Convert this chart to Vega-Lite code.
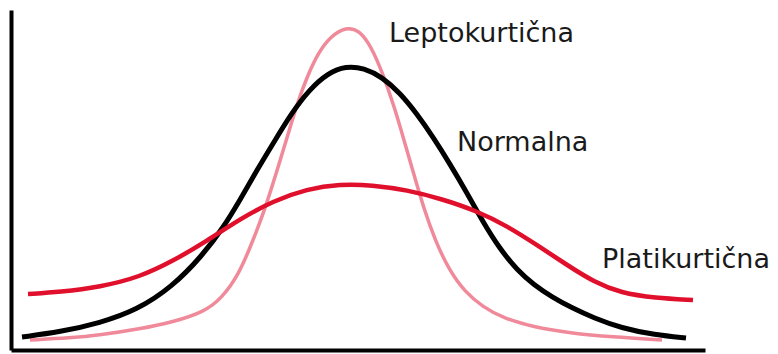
{
  "$schema": "https://vega.github.io/schema/vega-lite/v6.json",
  "width": 694,
  "height": 340,
  "padding": {"left": 11, "top": 10, "right": 73, "bottom": 4},
  "autosize": {"type": "none"},
  "background": "white",
  "config": {
    "view": {"stroke": null},
    "axis": {"domain": true, "domainColor": "#000000", "domainWidth": 4, "ticks": false, "labels": false, "grid": false}
  },
  "datasets": {
    "curves": [
      {"curve": "Leptokurtična", "x": 18, "y": 10},
      {"curve": "Leptokurtična", "x": 58, "y": 12},
      {"curve": "Leptokurtična", "x": 88, "y": 15},
      {"curve": "Leptokurtična", "x": 128, "y": 21},
      {"curve": "Leptokurtična", "x": 161, "y": 28},
      {"curve": "Leptokurtična", "x": 192, "y": 38},
      {"curve": "Leptokurtična", "x": 210, "y": 52},
      {"curve": "Leptokurtična", "x": 227, "y": 76},
      {"curve": "Leptokurtična", "x": 240, "y": 107},
      {"curve": "Leptokurtična", "x": 253, "y": 141},
      {"curve": "Leptokurtična", "x": 264, "y": 176},
      {"curve": "Leptokurtična", "x": 275, "y": 212},
      {"curve": "Leptokurtična", "x": 285, "y": 246},
      {"curve": "Leptokurtična", "x": 295, "y": 273},
      {"curve": "Leptokurtična", "x": 306, "y": 297},
      {"curve": "Leptokurtična", "x": 319, "y": 314},
      {"curve": "Leptokurtična", "x": 334, "y": 323},
      {"curve": "Leptokurtična", "x": 347, "y": 320},
      {"curve": "Leptokurtična", "x": 359, "y": 304},
      {"curve": "Leptokurtična", "x": 371, "y": 276},
      {"curve": "Leptokurtična", "x": 382, "y": 244},
      {"curve": "Leptokurtična", "x": 392, "y": 210},
      {"curve": "Leptokurtična", "x": 402, "y": 175},
      {"curve": "Leptokurtična", "x": 412, "y": 141},
      {"curve": "Leptokurtična", "x": 423, "y": 110},
      {"curve": "Leptokurtična", "x": 437, "y": 80},
      {"curve": "Leptokurtična", "x": 453, "y": 58},
      {"curve": "Leptokurtična", "x": 471, "y": 43},
      {"curve": "Leptokurtična", "x": 491, "y": 32},
      {"curve": "Leptokurtična", "x": 521, "y": 23},
      {"curve": "Leptokurtična", "x": 558, "y": 17},
      {"curve": "Leptokurtična", "x": 600, "y": 13},
      {"curve": "Leptokurtična", "x": 650, "y": 10},

      {"curve": "Normalna", "x": 10, "y": 13},
      {"curve": "Normalna", "x": 48, "y": 18},
      {"curve": "Normalna", "x": 88, "y": 27},
      {"curve": "Normalna", "x": 125, "y": 40},
      {"curve": "Normalna", "x": 160, "y": 63},
      {"curve": "Normalna", "x": 190, "y": 94},
      {"curve": "Normalna", "x": 211, "y": 122},
      {"curve": "Normalna", "x": 228, "y": 150},
      {"curve": "Normalna", "x": 245, "y": 180},
      {"curve": "Normalna", "x": 262, "y": 208},
      {"curve": "Normalna", "x": 279, "y": 236},
      {"curve": "Normalna", "x": 297, "y": 260},
      {"curve": "Normalna", "x": 316, "y": 277},
      {"curve": "Normalna", "x": 334, "y": 284},
      {"curve": "Normalna", "x": 352, "y": 282},
      {"curve": "Normalna", "x": 370, "y": 273},
      {"curve": "Normalna", "x": 388, "y": 257},
      {"curve": "Normalna", "x": 405, "y": 236},
      {"curve": "Normalna", "x": 421, "y": 213},
      {"curve": "Normalna", "x": 438, "y": 186},
      {"curve": "Normalna", "x": 455, "y": 157},
      {"curve": "Normalna", "x": 471, "y": 128},
      {"curve": "Normalna", "x": 488, "y": 101},
      {"curve": "Normalna", "x": 505, "y": 80},
      {"curve": "Normalna", "x": 522, "y": 65},
      {"curve": "Normalna", "x": 540, "y": 53},
      {"curve": "Normalna", "x": 560, "y": 42},
      {"curve": "Normalna", "x": 582, "y": 32},
      {"curve": "Normalna", "x": 609, "y": 22},
      {"curve": "Normalna", "x": 643, "y": 15},
      {"curve": "Normalna", "x": 674, "y": 12},

      {"curve": "Platikurtična", "x": 16, "y": 56},
      {"curve": "Platikurtična", "x": 48, "y": 58},
      {"curve": "Platikurtična", "x": 88, "y": 63},
      {"curve": "Platikurtična", "x": 128, "y": 73},
      {"curve": "Platikurtična", "x": 161, "y": 89},
      {"curve": "Platikurtična", "x": 195, "y": 109},
      {"curve": "Platikurtična", "x": 228, "y": 131},
      {"curve": "Platikurtična", "x": 261, "y": 149},
      {"curve": "Platikurtična", "x": 295, "y": 161},
      {"curve": "Platikurtična", "x": 328, "y": 166},
      {"curve": "Platikurtična", "x": 360, "y": 165},
      {"curve": "Platikurtična", "x": 395, "y": 160},
      {"curve": "Platikurtična", "x": 430, "y": 151},
      {"curve": "Platikurtična", "x": 465, "y": 139},
      {"curve": "Platikurtična", "x": 495, "y": 124},
      {"curve": "Platikurtična", "x": 525, "y": 105},
      {"curve": "Platikurtična", "x": 555, "y": 85},
      {"curve": "Platikurtična", "x": 582, "y": 68},
      {"curve": "Platikurtična", "x": 609, "y": 57},
      {"curve": "Platikurtična", "x": 643, "y": 52},
      {"curve": "Platikurtična", "x": 681, "y": 50}
    ],
    "labels": [
      {"label": "Leptokurtična", "x": 377, "y": 308},
      {"label": "Normalna", "x": 445, "y": 199},
      {"label": "Platikurtična", "x": 590, "y": 82}
    ]
  },
  "layer": [
    {
      "data": {"name": "curves"},
      "transform": [{"filter": "datum.curve === 'Leptokurtična'"}],
      "mark": {"type": "line", "interpolate": "basis", "stroke": "#f08a9a", "strokeWidth": 3.5, "clip": false},
      "encoding": {
        "x": {"field": "x", "type": "quantitative", "scale": {"domain": [-1, 693], "nice": false, "zero": false}, "title": null},
        "y": {"field": "y", "type": "quantitative", "scale": {"domain": [0, 340], "nice": false}, "title": null}
      }
    },
    {
      "data": {"name": "curves"},
      "transform": [{"filter": "datum.curve === 'Normalna'"}],
      "mark": {"type": "line", "interpolate": "basis", "stroke": "#000000", "strokeWidth": 5, "clip": false},
      "encoding": {
        "x": {"field": "x", "type": "quantitative", "title": null},
        "y": {"field": "y", "type": "quantitative", "title": null}
      }
    },
    {
      "data": {"name": "curves"},
      "transform": [{"filter": "datum.curve === 'Platikurtična'"}],
      "mark": {"type": "line", "interpolate": "basis", "stroke": "#e0102c", "strokeWidth": 4.5, "clip": false},
      "encoding": {
        "x": {"field": "x", "type": "quantitative", "title": null},
        "y": {"field": "y", "type": "quantitative", "title": null}
      }
    },
    {
      "data": {"name": "labels"},
      "mark": {"type": "text", "align": "left", "baseline": "alphabetic", "font": "DejaVu Sans", "fontSize": 27, "fill": "#1a1a1a"},
      "encoding": {
        "x": {"field": "x", "type": "quantitative", "title": null},
        "y": {"field": "y", "type": "quantitative", "title": null},
        "text": {"field": "label", "type": "nominal"}
      }
    }
  ]
}
